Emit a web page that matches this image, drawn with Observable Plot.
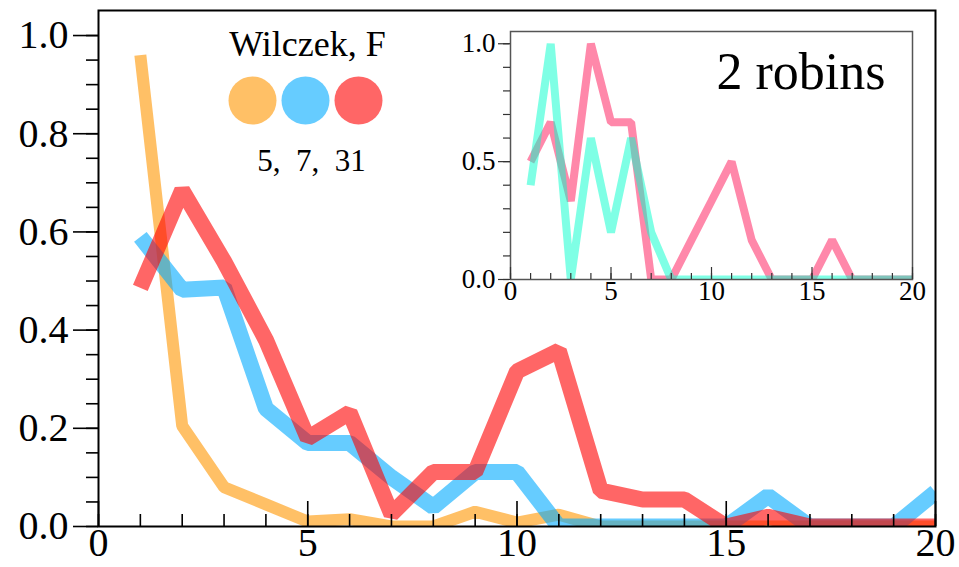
<!DOCTYPE html>
<html>
<head>
<meta charset="utf-8">
<script src="https://cdn.jsdelivr.net/npm/d3@7"></script>
<script src="https://cdn.jsdelivr.net/npm/@observablehq/plot@0.6"></script>
<style>
  body { margin: 0; background: #fff; }
  #chart { position: relative; width: 959px; height: 567px; }
  #chart svg { position: absolute; }
  #chart svg text { font-family: 'Liberation Serif', 'Times New Roman', serif; }
</style>
</head>
<body>
<div id="chart"></div>
<script>
// Steps along the x axis (shared by every series)
const steps = d3.range(1, 21);

// Main panel: Wilczek, F — three series
const seriesLabels = ["5", "7", "31"];
const seriesColors = ["#FF9600", "#00AAFF", "#FF0000"];
const wilczek5  = [0.96, 0.205, 0.08, 0.045, 0.01, 0.015, 0, 0, 0.03, 0.008, 0.024, 0, 0, 0, 0, 0, 0, 0, 0, 0];
const wilczek7  = [0.59, 0.482, 0.487, 0.24, 0.17, 0.17, 0.10, 0.04, 0.111, 0.111, 0, 0, 0, 0, 0, 0.062, 0, 0, 0, 0.07];
const wilczek31 = [0.486, 0.685, 0.54, 0.38, 0.18, 0.232, 0.025, 0.111, 0.111, 0.316, 0.358, 0.073, 0.055, 0.055, 0, 0.02, 0, 0, 0, 0];
const mainSeries = [wilczek5, wilczek7, wilczek31];

// Inset panel: 2 robins
const robinA = [0.5, 0.667, 0.333, 1.0, 0.667, 0.667, 0, 0, 0.167, 0.333, 0.5, 0.167, 0, 0, 0, 0.167, 0, 0, 0, 0];
const robinB = [0.4, 1.0, 0, 0.6, 0.2, 0.6, 0.2, 0, 0, 0, 0, 0, 0, 0, 0, 0, 0, 0, 0, 0];
const robinColors = ["#FF1155", "#00FFCC"];

// Tick values
const xMajor = [0, 5, 10, 15, 20];
const xMinor = d3.range(0, 21);
const yMajor = [0, 0.2, 0.4, 0.6, 0.8, 1.0];
const yMinor = d3.range(0, 21).map(i => i * 0.05);
const insetYMajor = [0, 0.5, 1.0];
const insetYMinor = d3.range(0, 11).map(i => i * 0.1);

const serif = "'Liberation Serif', 'Times New Roman', serif";
const lineStyle = {strokeLinecap: "butt", strokeLinejoin: "miter", clip: true};

// ---- main chart ----
const W = 959, H = 567;
const mTop = 10, mBottom = 41, mLeft = 98, mRight = 24;
const frameH = H - mTop - mBottom;

const main = Plot.plot({
  width: W, height: H,
  marginTop: mTop, marginBottom: mBottom, marginLeft: mLeft, marginRight: mRight,
  style: {fontFamily: serif, color: "#000", background: "transparent", overflow: "visible"},
  x: {domain: [0, 20], label: null},
  y: {domain: [0, 1.051], label: null},
  marks: [
    ...mainSeries.map((vals, i) =>
      Plot.line(vals, {x: steps, y: Plot.identity, stroke: seriesColors[i], strokeOpacity: 0.6, strokeWidth: i === 0 ? 12 : 16, ...lineStyle})
    ),
    Plot.frame({stroke: "#000", strokeWidth: 2}),
    Plot.axisY(yMinor, {tickSize: 12, tickFormat: () => "", label: null, strokeWidth: 1.6}),
    Plot.axisY(yMajor, {tickSize: 25, tickPadding: 5, tickFormat: d3.format(".1f"), label: null, fontSize: 40, fontFamily: serif, strokeWidth: 1.6}),
    Plot.axisX(xMajor, {tickSize: 0, tickPadding: 1, tickFormat: d3.format("d"), label: null, fontSize: 40, fontFamily: serif}),
    Plot.ruleX(xMinor, {insetTop: frameH - 12, strokeWidth: 1.6}),
    Plot.ruleX(xMajor, {insetTop: frameH - 25, strokeWidth: 1.6}),
    // legend
    Plot.text(["Wilczek, F"], {frameAnchor: "top-left", dx: 209, dy: 55 - 0.71 * 36 - mTop, text: Plot.identity,
      textAnchor: "middle", lineAnchor: "top", fontSize: 36, fontFamily: serif, fill: "#000"}),
    ...seriesLabels.map((s, i) =>
      Plot.dot([s], {frameAnchor: "top-left", dx: 154 + 53 * i, dy: 90, r: 24, fill: seriesColors[i], fillOpacity: 0.6, stroke: null})
    ),
    Plot.text([seriesLabels.join(",\u00a0\u00a0")], {frameAnchor: "top-left", dx: 213, dy: 170 - 0.71 * 31 - mTop, text: Plot.identity,
      textAnchor: "middle", lineAnchor: "top", fontSize: 31, fontFamily: serif, fill: "#000"})
  ]
});
main.style.left = "0px";
main.style.top = "0px";

// ---- inset chart ----
const iW = 470, iH = 300;
const iTop = 11, iBottom = 41, iLeft = 60, iRight = 8;
const iFrameH = iH - iTop - iBottom;

const inset = Plot.plot({
  width: iW, height: iH,
  marginTop: iTop, marginBottom: iBottom, marginLeft: iLeft, marginRight: iRight,
  style: {fontFamily: serif, color: "#000", background: "transparent", overflow: "visible"},
  x: {domain: [0, 20], label: null},
  y: {domain: [0, 1.052], label: null},
  marks: [
    Plot.line(robinA, {x: steps, y: Plot.identity, stroke: robinColors[0], strokeOpacity: 0.5, strokeWidth: 8, ...lineStyle}),
    Plot.line(robinB, {x: steps, y: Plot.identity, stroke: robinColors[1], strokeOpacity: 0.5, strokeWidth: 8, ...lineStyle}),
    Plot.frame({stroke: "#555", strokeWidth: 1.5}),
    Plot.axisY(insetYMinor, {tickSize: 7, tickFormat: () => "", label: null, stroke: "#333", strokeWidth: 1.2}),
    Plot.axisY(insetYMajor, {tickSize: 12, tickPadding: 3, tickFormat: d3.format(".1f"), label: null, fontSize: 27, fontFamily: serif, stroke: "#333", strokeWidth: 1.2}),
    Plot.axisX(xMajor, {tickSize: 0, tickPadding: 1, tickFormat: d3.format("d"), label: null, fontSize: 27, fontFamily: serif}),
    Plot.ruleX(xMinor, {insetTop: iFrameH - 6, stroke: "#333", strokeWidth: 1.2}),
    Plot.ruleX(xMajor, {insetTop: iFrameH - 12, stroke: "#333", strokeWidth: 1.2}),
    Plot.text(["2 robins"], {frameAnchor: "top-right", dx: -27, dy: 88 - 0.71 * 52 - 31, text: Plot.identity,
      textAnchor: "end", lineAnchor: "top", fontSize: 52, fontFamily: serif, fill: "#000"})
  ]
});
inset.style.left = "450px";
inset.style.top = "20px";

const chart = document.getElementById("chart");
chart.append(main, inset);
</script>
</body>
</html>
